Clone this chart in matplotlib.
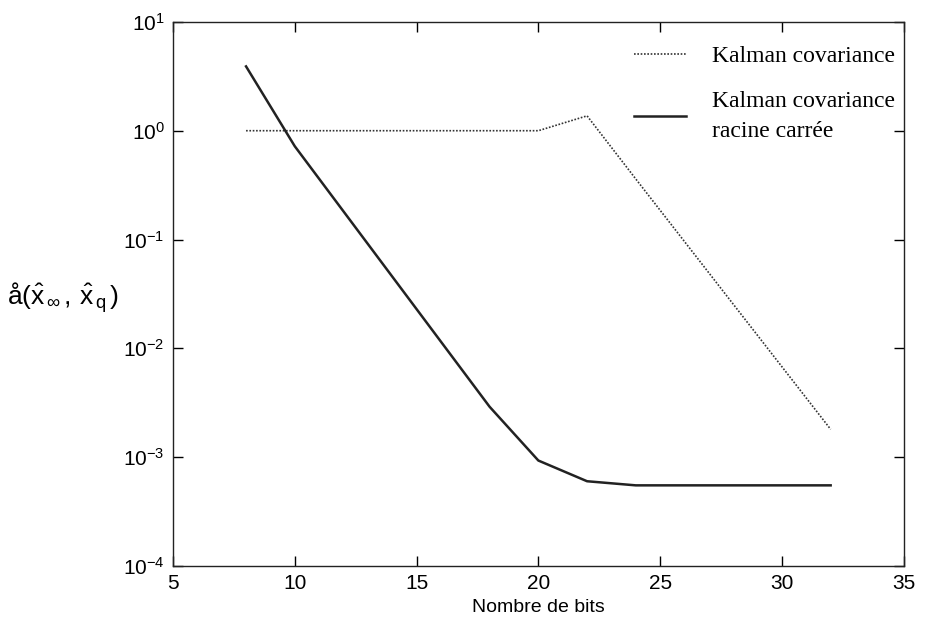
import matplotlib
matplotlib.use("Agg")
import matplotlib.pyplot as plt
from matplotlib.ticker import NullLocator, LogLocator

# === données ===
bits_kc = [8, 20, 22, 24, 32]
err_kc = [1.0, 1.0, 1.37, 0.36, 0.0018]

bits_rc = [8, 10, 18, 20, 22, 24, 32]
err_rc = [3.9, 0.72, 0.0029, 0.00093, 0.00060, 0.00055, 0.00055]

label_kc = "Kalman covariance"
label_rc = "Kalman covariance\nracine carrée"

plt.rcParams['font.family'] = ['Liberation Sans', 'DejaVu Sans']
plt.rcParams['mathtext.fontset'] = 'custom'
plt.rcParams['mathtext.rm'] = 'Liberation Sans'
plt.rcParams['mathtext.it'] = 'Liberation Sans:italic'

fig = plt.figure(figsize=(9.25, 6.26), dpi=100)
ax = fig.add_axes([0.187, 0.096, 0.790, 0.869])

ax.plot(bits_kc, err_kc, color='#333333', lw=1.2, ls=(0, (1, 1)), label=label_kc)
ax.plot(bits_rc, err_rc, color='#222222', lw=1.8, label=label_rc)

ax.set_yscale('log')
ax.set_xlim(5, 35)
ax.set_ylim(1e-4, 1e1)
ax.set_xticks([5, 10, 15, 20, 25, 30, 35])
ax.yaxis.set_major_locator(LogLocator(base=10, numticks=10))
ax.yaxis.set_minor_locator(NullLocator())
ax.tick_params(direction='in', length=7, width=1, top=True, right=True,
               labelsize=15, pad=6)
for s in ax.spines.values():
    s.set_linewidth(1.0)
    s.set_color('#222222')

ax.set_xlabel("Nombre de bits", fontsize=14, labelpad=4)
fig.text(0.008, 0.525,
         r'å$(\hat{\mathrm{x}}_{\,\infty}\,,\,\hat{\mathrm{x}}_{\,\mathrm{q}}\,)$',
         fontsize=19, ha='left', va='center')

leg = ax.legend(loc='upper right', frameon=False, handlelength=2.2,
                prop={'family': 'Liberation Serif', 'size': 17},
                bbox_to_anchor=(1.004, 0.978),
                borderaxespad=0.1, labelspacing=1.0, handletextpad=1.1)
leg.get_texts()[1].set_linespacing(1.55)

plt.savefig("out.png", dpi=100)
